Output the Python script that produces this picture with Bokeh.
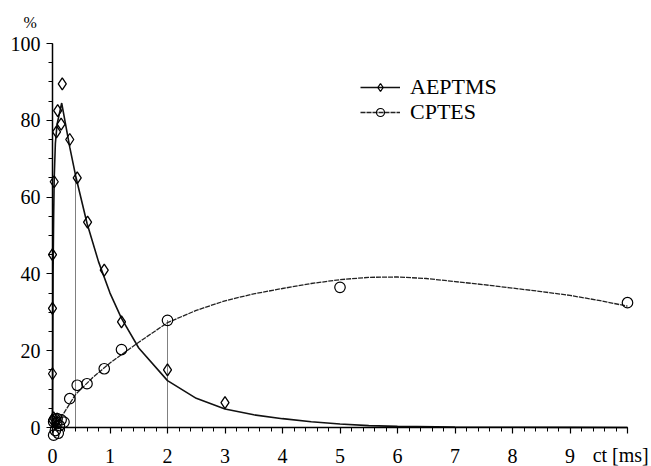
from bokeh.plotting import figure
from bokeh.models import (LinearAxis, Range1d, SingleIntervalTicker, Legend,
                          LegendItem, Label)
from bokeh.embed import file_html
from bokeh.resources import INLINE

# ---------------- data ----------------
aep_x = [0, 0, 0, 0, 0.02, 0.03, 0.05, 0.07, 0.09, 0.15, 0.17, 0.30, 0.43, 0.61, 0.90, 1.20, 2.0, 3.0, 0.08, 0.1]
aep_y = [2, 14, 31, 45, 2.5, 64, 1.0, 77, 82.5, 79, 89.5, 75, 65, 53.5, 41, 27.5, 15, 6.5, 2.2, 1.2]

cpt_x = [0.02, 0.1, 0.2, 0.08, 0.02, 0.05, 0.12, 0.15, 0.3, 0.43, 0.6, 0.9, 1.2, 2.0, 5.0, 10.0]
cpt_y = [-2.0, -1.5, 1.4, 2.3, 1.5, -0.8, 0.5, 2.0, 7.5, 11, 11.4, 15.3, 20.3, 27.9, 36.5, 32.5]

aep_fit_x = [0, 0.005, 0.01, 0.02, 0.03, 0.05, 0.08, 0.16, 0.3, 0.4, 0.6, 0.8, 1.0, 1.2, 1.5,
             2.0, 2.5, 3.0, 3.5, 4.0, 4.5, 5.0, 5.5, 6.0, 7.0, 8.0, 9.0, 10.0]
aep_fit_y = [0, 20, 40, 55, 65, 74, 79, 84.5, 73, 65.7, 53.2, 43.2, 35.0, 28.4, 20.7,
             12.2, 7.6, 4.8, 3.3, 2.3, 1.5, 0.9, 0.5, 0.3, 0.1, 0.05, 0.02, 0.0]

cpt_fit_x = [0, 0.2, 0.4, 0.7, 1.0, 1.5, 2.0, 2.5, 3.0, 3.5, 4.0, 4.5, 5.0, 5.5, 6.0, 6.5,
             7.0, 7.5, 8.0, 8.5, 9.0, 9.5, 10.0]
cpt_fit_y = [0, 3.8, 8.6, 13.0, 16.8, 22.2, 27.3, 30.5, 33.0, 34.8, 36.2, 37.5, 38.5, 39.1,
             39.2, 38.8, 38.0, 37.2, 36.3, 35.4, 34.4, 33.1, 31.6]

guide_x = [0.4, 2.0]
guide_top = [65.5, 27.9]

x_ticks_interval = 1
y_ticks_interval = 20
series_names = ["AEPTMS", "CPTES"]
x_unit_label = "ct [ms]"
y_unit_label = "%"

# ---------------- figure ----------------
W, H = 651, 466
X0PX, XSCALE = 52.0, 57.5     # px of x=0, px per unit
Y0PX, YSCALE = 427.0, 3.84    # px of y=0, px per unit
x_lo = (0 - X0PX) / XSCALE
x_hi = (W - X0PX) / XSCALE
y_hi = Y0PX / YSCALE
y_lo = (Y0PX - H) / YSCALE

FONT = "Liberation Serif"

p = figure(width=W, height=H, output_backend="svg", toolbar_location=None,
           x_range=Range1d(x_lo, x_hi), y_range=Range1d(y_lo, y_hi),
           x_axis_location=None, y_axis_location=None, min_border=0,
           outline_line_color=None, background_fill_color="white",
           border_fill_color="white")
p.xgrid.visible = False
p.ygrid.visible = False

def style_axis(ax):
    ax.axis_line_color = "black"
    ax.axis_line_width = 1.5
    ax.major_tick_line_color = "black"
    ax.minor_tick_line_color = "black"
    ax.major_tick_line_width = 1.2
    ax.minor_tick_line_width = 1.0
    ax.major_tick_in = 0
    ax.major_tick_out = 6
    ax.minor_tick_in = 0
    ax.minor_tick_out = 4
    ax.major_label_text_font = FONT
    ax.major_label_text_font_size = "20px"
    ax.major_label_text_color = "black"

xax = LinearAxis(fixed_location=0, bounds=(0, 10),
                 ticker=SingleIntervalTicker(interval=x_ticks_interval, num_minor_ticks=5),
                 major_label_overrides={10: ""})
style_axis(xax)
xax.major_label_standoff = 15
p.add_layout(xax, "below")

yax = LinearAxis(fixed_location=0, bounds=(0, 100),
                 ticker=SingleIntervalTicker(interval=y_ticks_interval, num_minor_ticks=4))
style_axis(yax)
yax.major_label_standoff = 6
p.add_layout(yax, "left")

# dotted guide lines
p.segment(x0=guide_x, y0=[0, 0], x1=guide_x, y1=guide_top,
          line_color="black", line_width=1, line_dash="1 1")

# fitted curves
aep_line = p.line(aep_fit_x, aep_fit_y, line_color="#111111", line_width=1.6)
cpt_line = p.line(cpt_fit_x, cpt_fit_y, line_color="#222222", line_width=1.3,
                  line_dash="5 1")

# markers
aep_pts = p.scatter(aep_x, aep_y, marker="diamond", size=12,
                    fill_color="white", fill_alpha=0.0, line_color="black", line_width=1.3)
cpt_pts = p.scatter(cpt_x, cpt_y, marker="circle", size=10.5,
                    fill_color="white", fill_alpha=0.0, line_color="black", line_width=1.2)

def make_legend(label, renderers, y_loc):
    return Legend(items=[LegendItem(label=label, renderers=renderers)],
                  location=(360, y_loc), orientation="vertical",
                  label_text_font=FONT, label_text_font_size="22px",
                  label_text_color="black", glyph_width=40, glyph_height=20,
                  label_height=20, spacing=0, padding=0, margin=0,
                  label_standoff=10, border_line_color=None,
                  background_fill_alpha=0.0)

p.add_layout(make_legend(series_names[0], [aep_line, aep_pts], 366))
p.add_layout(make_legend(series_names[1], [cpt_line, cpt_pts], 341))

p.add_layout(Label(x=-0.39, y=105.5, text=y_unit_label, text_align="center",
                   text_baseline="middle", text_font=FONT, text_font_size="16px",
                   text_color="black"))
p.add_layout(Label(x=10.37, y=-4.3, text=x_unit_label, text_align="right",
                   text_baseline="top", text_font=FONT, text_font_size="20px",
                   text_color="black"))

open("out.html", "w").write(file_html(p, INLINE))
